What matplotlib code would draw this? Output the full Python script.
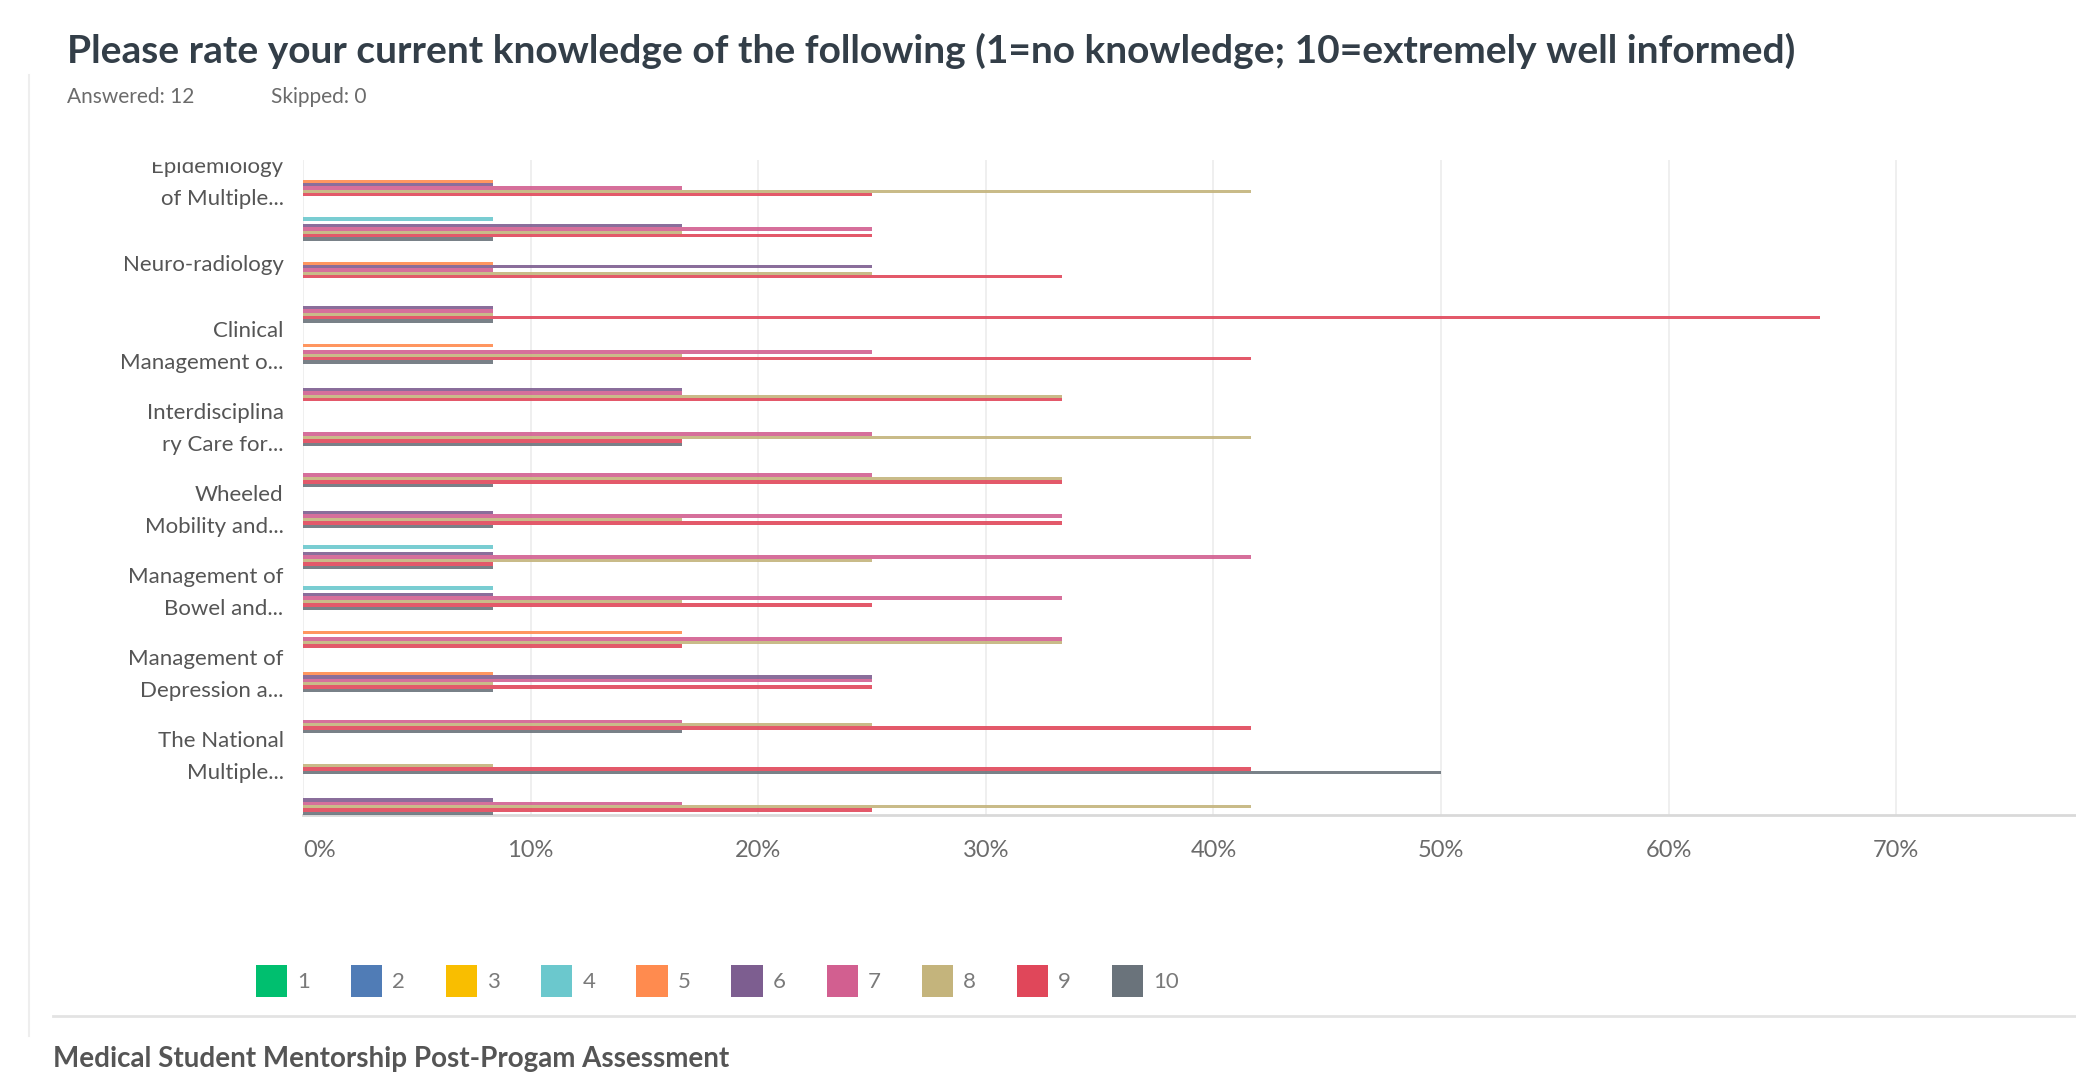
import numpy as np
import matplotlib
matplotlib.use("Agg")
import matplotlib.pyplot as plt
from matplotlib.patches import Patch, Rectangle
from matplotlib.lines import Line2D

plt.rcParams['font.family'] = ['Lato', 'DejaVu Sans']

# tick labels (SurveyMonkey only shows every other one)
row_labels = ["Epidemiology\nof Multiple...", "", "Neuro-radiology", "",
              "Clinical\nManagement o...", "", "Interdisciplina\nry Care for...", "",
              "Wheeled\nMobility and...", "", "Management of\nBowel and...", "",
              "Management of\nDepression a...", "", "The National\nMultiple...", ""]

ratings = ["1", "2", "3", "4", "5", "6", "7", "8", "9", "10"]
rating_colors = ["#00bf6f", "#507cb6", "#f9be00", "#6bc8cd", "#ff8b4f",
                 "#7d5e90", "#d25f90", "#c4b47c", "#e0475a", "#6a737b"]

# respondents (of 12) per row, one value per rating 1..10
n = 12
counts = np.array([
    [0, 0, 0, 0, 1, 1, 2, 5, 3, 0],
    [0, 0, 0, 1, 0, 2, 3, 2, 3, 1],
    [0, 0, 0, 0, 1, 3, 1, 3, 4, 0],
    [0, 0, 0, 0, 0, 1, 1, 1, 8, 1],
    [0, 0, 0, 0, 1, 0, 3, 2, 5, 1],
    [0, 0, 0, 0, 0, 2, 2, 4, 4, 0],
    [0, 0, 0, 0, 0, 0, 3, 5, 2, 2],
    [0, 0, 0, 0, 0, 0, 3, 4, 4, 1],
    [0, 0, 0, 0, 0, 1, 4, 2, 4, 1],
    [0, 0, 0, 1, 0, 1, 5, 3, 1, 1],
    [0, 0, 0, 1, 0, 1, 4, 2, 3, 1],
    [0, 0, 0, 0, 2, 0, 4, 4, 2, 0],
    [0, 0, 0, 0, 1, 3, 3, 1, 3, 1],
    [0, 0, 0, 0, 0, 0, 2, 3, 5, 2],
    [0, 0, 0, 0, 0, 0, 0, 1, 5, 6],
    [0, 0, 0, 0, 0, 1, 2, 5, 3, 1],
])
pct = counts / n * 100

W, H = 2076, 1074
fig = plt.figure(figsize=(W / 100, H / 100), dpi=100)
ax = fig.add_axes([303 / W, 1 - 815 / H, 1 - 303 / W, (815 - 160) / H])

y = np.arange(len(row_labels))
h = 0.082
for j in range(len(ratings)):
    ax.barh(y + (j - 4.5) * h, pct[:, j], height=h, color=rating_colors[j],
            alpha=0.9, linewidth=0, zorder=3)

ax.set_xlim(0, 77.9)
ax.set_ylim(15.41, -0.56)
ax.set_xticks(np.arange(0, 71, 10))
ax.set_xticklabels([f"{v}%" for v in range(0, 71, 10)], fontsize=17, color="#6b6b6b")
ax.get_xticklabels()[0].set_ha("left")
ax.set_yticks(y)
ax.set_yticklabels(row_labels, fontsize=16, color="#555555", linespacing=1.72, va="center")
ax.tick_params(axis="x", length=0, pad=18)
ax.tick_params(axis="y", length=0, pad=14)
ax.grid(axis="x", color="#ececec", lw=1.2, zorder=0)
for s in ["top", "right", "left"]:
    ax.spines[s].set_visible(False)
ax.spines["bottom"].set_color("#d9d9d9")
ax.spines["bottom"].set_linewidth(2)

# top label is cut off by the scroll area in the original
fig.add_artist(Rectangle((60 / W, 1 - 161 / H), 240 / W, 30 / H,
                         transform=fig.transFigure, color="white", zorder=10))

fig.text(67 / W, 1 - 51 / H,
         "Please rate your current knowledge of the following (1=no knowledge; 10=extremely well informed)",
         fontsize=28, fontweight="bold", color="#333e48", va="center")
fig.text(67 / W, 1 - 97 / H, "Answered: 12", fontsize=15, color="#6b6b6b", va="center")
fig.text(271 / W, 1 - 97 / H, "Skipped: 0", fontsize=15, color="#6b6b6b", va="center")

handles = [Patch(facecolor=c, edgecolor="none") for c in rating_colors]
fig.legend(handles, ratings, loc="center left", bbox_to_anchor=(236 / W, 1 - 981 / H),
           ncol=10, frameon=False, fontsize=16, handlelength=1.4, handleheight=1.85,
           handletextpad=0.45, columnspacing=1.85, labelcolor="#7a7a7a")

fig.add_artist(Line2D([53 / W, 1], [1 - 1016 / H] * 2, transform=fig.transFigure,
                      color="#e3e3e3", lw=2))
fig.add_artist(Line2D([29 / W] * 2, [1 - 75 / H, 1 - 1036 / H], transform=fig.transFigure,
                      color="#eeeeee", lw=1.5))
fig.text(53 / W, 1 - 1059 / H, "Medical Student Mentorship Post-Progam Assessment",
         fontsize=20, fontweight="bold", color="#555555", va="center")

fig.savefig("out.png", dpi=100, facecolor="white")
